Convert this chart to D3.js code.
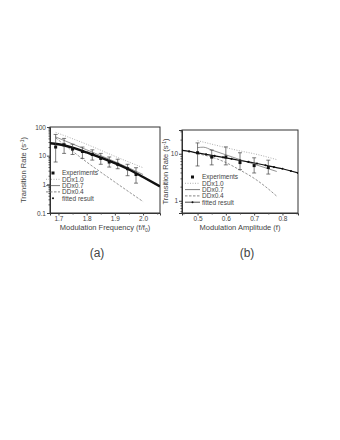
<!DOCTYPE html>
<html>
<head>
<meta charset="utf-8">
<script src="https://cdn.jsdelivr.net/npm/d3@7"></script>
<style>
  body { margin: 0; background: #fff; }
  svg text { font-family: "Liberation Sans", Arial, sans-serif; fill: #444; }
</style>
</head>
<body>
<div id="chart"></div>
<script>
// ---- panel (a): rate vs modulation frequency ----
var freqExp = [1.69, 1.72, 1.75, 1.785, 1.82, 1.85, 1.88, 1.91, 1.945, 1.975];
var rateExpA = [20, 24, 17, 14, 11, 8, 6, 5, 3.5, 2.2];
var errLoA = [6, 12, 11, 8, 7, 5, 4, 3.5, 2, 1.1];
var errHiA = [55, 40, 25, 20, 16, 12, 9, 7.5, 5, 3.8];

var freqDD10 = [1.69, 1.8, 1.9, 2.0];
var rateDD10 = [65, 25, 9.5, 3.8];
var freqDD07 = [1.69, 1.8, 1.9, 2.0];
var rateDD07 = [45, 16, 6.2, 2.2];
var freqDD04 = [1.69, 1.8, 1.9, 2.0];
var rateDD04 = [42, 6, 1.2, 0.25];

var freqFit = [1.67, 1.70, 1.75, 1.80, 1.85, 1.90, 1.95, 2.00, 2.06];
var rateFit = [27, 25, 19, 13, 8.5, 5.5, 3.3, 1.8, 0.85];

var freqTicks = [1.7, 1.8, 1.9, 2.0];
var rateTicksA = [0.1, 1, 10, 100];

// ---- panel (b): rate vs modulation amplitude ----
var ampExp = [0.5, 0.55, 0.6, 0.65, 0.7, 0.75];
var rateExpB = [10.5, 8.5, 8.5, 6.5, 5.6, 5.1];
var errLoB = [5.5, 5.8, 5.8, 4.6, 3.9, 3.7];
var errHiB = [17, 12, 14, 10.5, 8.2, 7.3];

var ampDD10 = [0.5, 0.55, 0.6, 0.65, 0.7, 0.78];
var rateDD10B = [19, 16, 13.5, 11.5, 10, 7.5];
var ampDD07 = [0.5, 0.52, 0.55, 0.6, 0.65, 0.7, 0.78];
var rateDD07B = [13.5, 13.8, 12, 9.5, 7.5, 6, 4.2];
var ampDD04 = [0.5, 0.55, 0.6, 0.65, 0.7, 0.74, 0.78];
var rateDD04B = [10, 8.5, 6.5, 4.5, 3, 2, 1.25];

var ampFit = [0.445, 0.47, 0.5, 0.53, 0.56, 0.59, 0.62, 0.65, 0.68, 0.71, 0.74, 0.77, 0.8, 0.83, 0.855];
var rateFitB = [11.8, 11.2, 10.4, 9.7, 9, 8.4, 7.8, 7.2, 6.7, 6.2, 5.7, 5.2, 4.8, 4.3, 3.9];

var ampTicks = [0.5, 0.6, 0.7, 0.8];
var rateTicksB = [1, 10];

var legendNames = ["Experiments", "DDx1.0", "DDx0.7", "DDx0.4", "fitted result"];

var svg = d3.select("#chart").append("svg")
    .attr("width", 340)
    .attr("height", 440);

var fmt = function(d) { return d3.format("")(d); };

function drawPanel(opt) {
    var g = svg.append("g");
    var x = d3.scaleLinear().domain(opt.xDomain).range([opt.left, opt.right]);
    var y = d3.scaleLog().domain(opt.yDomain).range([opt.bottom, opt.top]);

    var clipId = "clip" + opt.id;
    g.append("clipPath").attr("id", clipId).append("rect")
        .attr("x", opt.left).attr("y", opt.top)
        .attr("width", opt.right - opt.left).attr("height", opt.bottom - opt.top);

    // minor log ticks
    var minor = y.ticks().filter(function(d) { return opt.yTicks.indexOf(d) < 0; });
    g.append("g").attr("transform", "translate(" + opt.left + ",0)")
        .call(d3.axisLeft(y).tickValues(minor).tickSize(1.5).tickFormat(""))
        .call(function(s) { s.select(".domain").remove(); s.selectAll("line").attr("stroke", "#555"); });

    // main axes
    var ax = g.append("g").attr("transform", "translate(0," + opt.bottom + ")")
        .call(d3.axisBottom(x).tickValues(opt.xTicks).tickSize(2.5).tickPadding(1).tickFormat(d3.format(".1f")));
    var xMinor = d3.range(opt.xTicks[0] - 0.05, opt.xDomain[1], 0.1).filter(function(d) { return d > opt.xDomain[0]; });
    g.append("g").attr("transform", "translate(0," + opt.bottom + ")")
        .call(d3.axisBottom(x).tickValues(xMinor).tickSize(1.5).tickFormat(""))
        .call(function(s) { s.select(".domain").remove(); s.selectAll("line").attr("stroke", "#555"); });
    var ay = g.append("g").attr("transform", "translate(" + opt.left + ",0)")
        .call(d3.axisLeft(y).tickValues(opt.yTicks).tickSize(3).tickPadding(1).tickFormat(fmt));
    [ax, ay].forEach(function(a) {
        a.selectAll("text").attr("font-size", "6.5px");
        a.selectAll("line").attr("stroke", "#444");
        a.select(".domain").attr("stroke", "#333");
    });
    g.append("rect")
        .attr("x", opt.left).attr("y", opt.top)
        .attr("width", opt.right - opt.left).attr("height", opt.bottom - opt.top)
        .attr("fill", "none").attr("stroke", "#333").attr("stroke-width", 1);

    var plot = g.append("g").attr("clip-path", "url(#" + clipId + ")");
    var curve = d3.line().curve(d3.curveMonotoneX).x(function(d) { return x(d[0]); }).y(function(d) { return y(d[1]); });

    plot.append("path").datum(d3.zip(opt.dd10x, opt.dd10y)).attr("d", curve)
        .attr("fill", "none").attr("stroke", "#999").attr("stroke-width", 0.8).attr("stroke-dasharray", "1,1.5");
    plot.append("path").datum(d3.zip(opt.dd07x, opt.dd07y)).attr("d", curve)
        .attr("fill", "none").attr("stroke", "#666").attr("stroke-width", 0.7);
    plot.append("path").datum(d3.zip(opt.dd04x, opt.dd04y)).attr("d", curve)
        .attr("fill", "none").attr("stroke", "#888").attr("stroke-width", 0.9).attr("stroke-dasharray", "2.5,1.5");
    plot.append("path").datum(d3.zip(opt.fitx, opt.fity)).attr("d", curve)
        .attr("fill", "none").attr("stroke", "#111").attr("stroke-width", opt.fitWidth);
    if (opt.fitDots) {
        plot.selectAll(".fd").data(d3.zip(opt.fitx, opt.fity)).enter().append("circle")
            .attr("cx", function(d) { return x(d[0]); }).attr("cy", function(d) { return y(d[1]); })
            .attr("r", 1.1).attr("fill", "#111");
    }

    // error bars
    var eb = plot.selectAll(".eb").data(d3.range(opt.ex.length)).enter().append("g").attr("stroke", "#444").attr("stroke-width", 0.7);
    eb.append("line")
        .attr("x1", function(i) { return x(opt.ex[i]); }).attr("x2", function(i) { return x(opt.ex[i]); })
        .attr("y1", function(i) { return y(opt.elo[i]); }).attr("y2", function(i) { return y(opt.ehi[i]); });
    eb.append("line")
        .attr("x1", function(i) { return x(opt.ex[i]) - 2; }).attr("x2", function(i) { return x(opt.ex[i]) + 2; })
        .attr("y1", function(i) { return y(opt.elo[i]); }).attr("y2", function(i) { return y(opt.elo[i]); });
    eb.append("line")
        .attr("x1", function(i) { return x(opt.ex[i]) - 2; }).attr("x2", function(i) { return x(opt.ex[i]) + 2; })
        .attr("y1", function(i) { return y(opt.ehi[i]); }).attr("y2", function(i) { return y(opt.ehi[i]); });
    plot.selectAll(".sq").data(d3.range(opt.ex.length)).enter().append("rect")
        .attr("x", function(i) { return x(opt.ex[i]) - 1.5; })
        .attr("y", function(i) { return y(opt.ey[i]) - 1.5; })
        .attr("width", 3).attr("height", 3).attr("fill", "#111");

    // legend
    var lg = g.append("g").attr("transform", "translate(" + opt.legX + "," + opt.legY + ")");
    legendNames.forEach(function(name, i) {
        var row = lg.append("g").attr("transform", "translate(0," + (i * 6.3) + ")");
        var sx = opt.legSym;
        if (i === 0) row.append("rect").attr("x", sx[0] + (sx[1] - sx[0]) / 2 - 1.5).attr("y", -1.5).attr("width", 3).attr("height", 3).attr("fill", "#111");
        if (i === 1) row.append("line").attr("x1", sx[0]).attr("x2", sx[1]).attr("stroke", "#999").attr("stroke-width", 0.8).attr("stroke-dasharray", "1,1.5");
        if (i === 2) row.append("line").attr("x1", sx[0]).attr("x2", sx[1]).attr("stroke", "#444").attr("stroke-width", 0.7);
        if (i === 3) row.append("line").attr("x1", sx[0]).attr("x2", sx[1]).attr("stroke", "#777").attr("stroke-width", 0.9).attr("stroke-dasharray", "2.5,1.5");
        if (i === 4) {
            if (opt.fitDots) row.append("line").attr("x1", sx[0]).attr("x2", sx[1]).attr("stroke", "#222").attr("stroke-width", 0.8);
            row.append("circle").attr("cx", sx[0] + (sx[1] - sx[0]) / 2).attr("r", 1).attr("fill", "#111");
        }
        row.append("text").attr("x", sx[1] + 2).attr("y", 2.3).attr("font-size", "6.5px").text(name);
    });

    // titles
    g.append("text")
        .attr("transform", "translate(" + opt.yTitleX + "," + ((opt.top + opt.bottom) / 2) + ") rotate(-90)")
        .attr("text-anchor", "middle").attr("font-size", "7.5px")
        .html("Transition Rate (s<tspan dy='-2.5' font-size='5px'>-1</tspan><tspan dy='2.5'>)</tspan>");
    g.append("text")
        .attr("x", (opt.left + opt.right) / 2).attr("y", opt.bottom + 17)
        .attr("text-anchor", "middle").attr("font-size", "7.5px")
        .html(opt.xTitle);
    g.append("text")
        .attr("x", opt.labelX).attr("y", 257)
        .attr("text-anchor", "middle").attr("font-size", "12px").attr("fill", "#111")
        .text(opt.label);
}

drawPanel({
    id: "a", left: 50, right: 160, top: 127, bottom: 213,
    xDomain: [1.67, 2.06], yDomain: [0.1, 100],
    xTicks: freqTicks, yTicks: rateTicksA,
    ex: freqExp, ey: rateExpA, elo: errLoA, ehi: errHiA,
    dd10x: freqDD10, dd10y: rateDD10, dd07x: freqDD07, dd07y: rateDD07, dd04x: freqDD04, dd04y: rateDD04,
    fitx: freqFit, fity: rateFit, fitWidth: 2.4, fitDots: false,
    legX: 0, legY: 173, legSym: [46, 60],
    yTitleX: 26,
    xTitle: "Modulation Frequency (f/f<tspan dy='1.5' font-size='5px'>0</tspan><tspan dy='-1.5'>)</tspan>",
    label: "(a)", labelX: 97
});

drawPanel({
    id: "b", left: 182, right: 298, top: 130, bottom: 213,
    xDomain: [0.445, 0.855], yDomain: [0.55, 32],
    xTicks: ampTicks, yTicks: rateTicksB,
    ex: ampExp, ey: rateExpB, elo: errLoB, ehi: errHiB,
    dd10x: ampDD10, dd10y: rateDD10B, dd07x: ampDD07, dd07y: rateDD07B, dd04x: ampDD04, dd04y: rateDD04B,
    fitx: ampFit, fity: rateFitB, fitWidth: 1.2, fitDots: true,
    legX: 0, legY: 177, legSym: [185, 200],
    yTitleX: 168,
    xTitle: "Modulation Amplitude (f)",
    label: "(b)", labelX: 247
});
</script>
</body>
</html>
